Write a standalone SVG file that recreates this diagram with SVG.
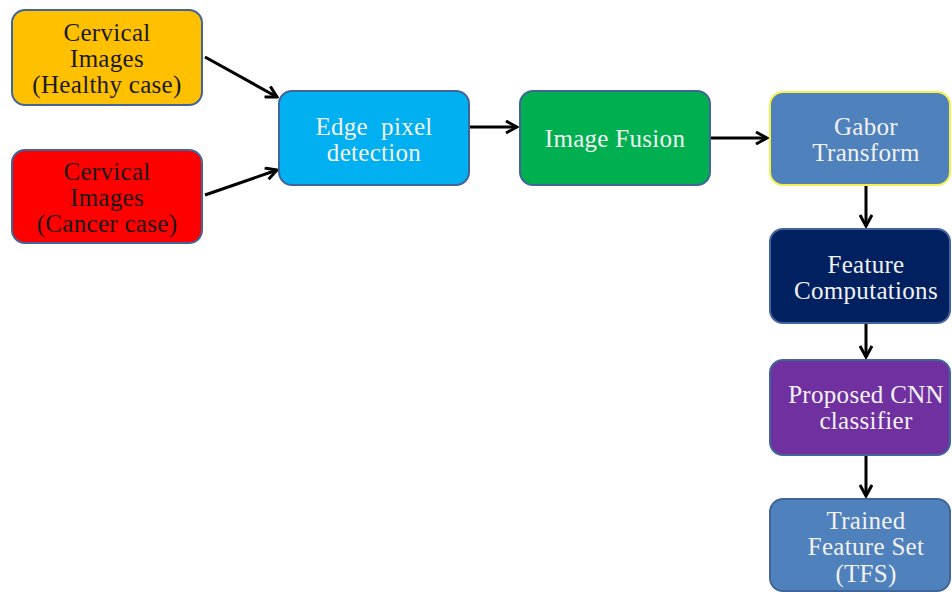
<svg xmlns="http://www.w3.org/2000/svg" width="952" height="592" viewBox="0 0 952 592">
<defs>
<style>
.box{stroke:#41659a;stroke-width:2}
.t{font-family:"Liberation Serif","Times New Roman",serif;font-size:25px;letter-spacing:0.3px;text-anchor:middle;white-space:pre}
.w{fill:#f2f2f2}
.d{fill:#1a1a1a}
.c{stroke:#000;stroke-width:3;fill:none;marker-end:url(#ah)}
</style>
<marker id="ah" viewBox="0 0 14 14" refX="12" refY="7" markerWidth="14" markerHeight="14" markerUnits="userSpaceOnUse" orient="auto">
<path d="M1,1 L12,7 L1,13" fill="none" stroke="#000" stroke-width="3"/>
</marker>
</defs>
<rect width="952" height="592" fill="#fff"/>
<g id="connectors">
<line class="c" x1="205" y1="57" x2="277" y2="97"/>
<line class="c" x1="205" y1="195" x2="277" y2="170"/>
<line class="c" x1="470" y1="127" x2="517" y2="127"/>
<line class="c" x1="711" y1="138" x2="767" y2="138"/>
<line class="c" x1="866" y1="186" x2="866" y2="226"/>
<line class="c" x1="866" y1="324" x2="866" y2="357"/>
<line class="c" x1="866" y1="456" x2="866" y2="496"/>
</g>
<g id="healthy">
<rect class="box" x="12" y="10" width="190" height="95" rx="13" fill="#ffc000"/>
<text class="t d" x="107" y="41">Cervical</text>
<text class="t d" x="107" y="67">Images</text>
<text class="t d" x="107" y="93">(Healthy case)</text>
</g>
<g id="cancer">
<rect class="box" x="12" y="150" width="190" height="93" rx="13" fill="#ff0000"/>
<text class="t d" x="107" y="180">Cervical</text>
<text class="t d" x="107" y="206">Images</text>
<text class="t d" x="107" y="232">(Cancer case)</text>
</g>
<g id="edge">
<rect class="box" x="279" y="91" width="190" height="94" rx="13" fill="#00b0f0"/>
<text class="t w" x="374" y="135" xml:space="preserve">Edge  pixel</text>
<text class="t w" x="374" y="161">detection</text>
</g>
<g id="fusion">
<rect class="box" x="520" y="91" width="190" height="94" rx="13" fill="#00b050"/>
<text class="t w" x="615" y="147">Image Fusion</text>
</g>
<g id="gabor">
<rect x="770" y="92" width="180" height="93" rx="13" fill="#4f81bd" stroke="#f5f04a" stroke-width="2"/>
<text class="t w" x="866" y="135">Gabor</text>
<text class="t w" x="866" y="161">Transform</text>
</g>
<g id="feature">
<rect class="box" x="770" y="229" width="180" height="94" rx="13" fill="#002060"/>
<text class="t w" x="866" y="273">Feature</text>
<text class="t w" x="866" y="299">Computations</text>
</g>
<g id="cnn">
<rect class="box" x="770" y="360" width="180" height="95" rx="13" fill="#7030a0"/>
<text class="t w" x="866" y="403">Proposed CNN</text>
<text class="t w" x="866" y="429">classifier</text>
</g>
<g id="tfs">
<rect class="box" x="770" y="499" width="180" height="92" rx="13" fill="#4f81bd"/>
<text class="t w" x="866" y="529">Trained</text>
<text class="t w" x="866" y="555">Feature Set</text>
<text class="t w" x="866" y="582">(TFS)</text>
</g>
</svg>
